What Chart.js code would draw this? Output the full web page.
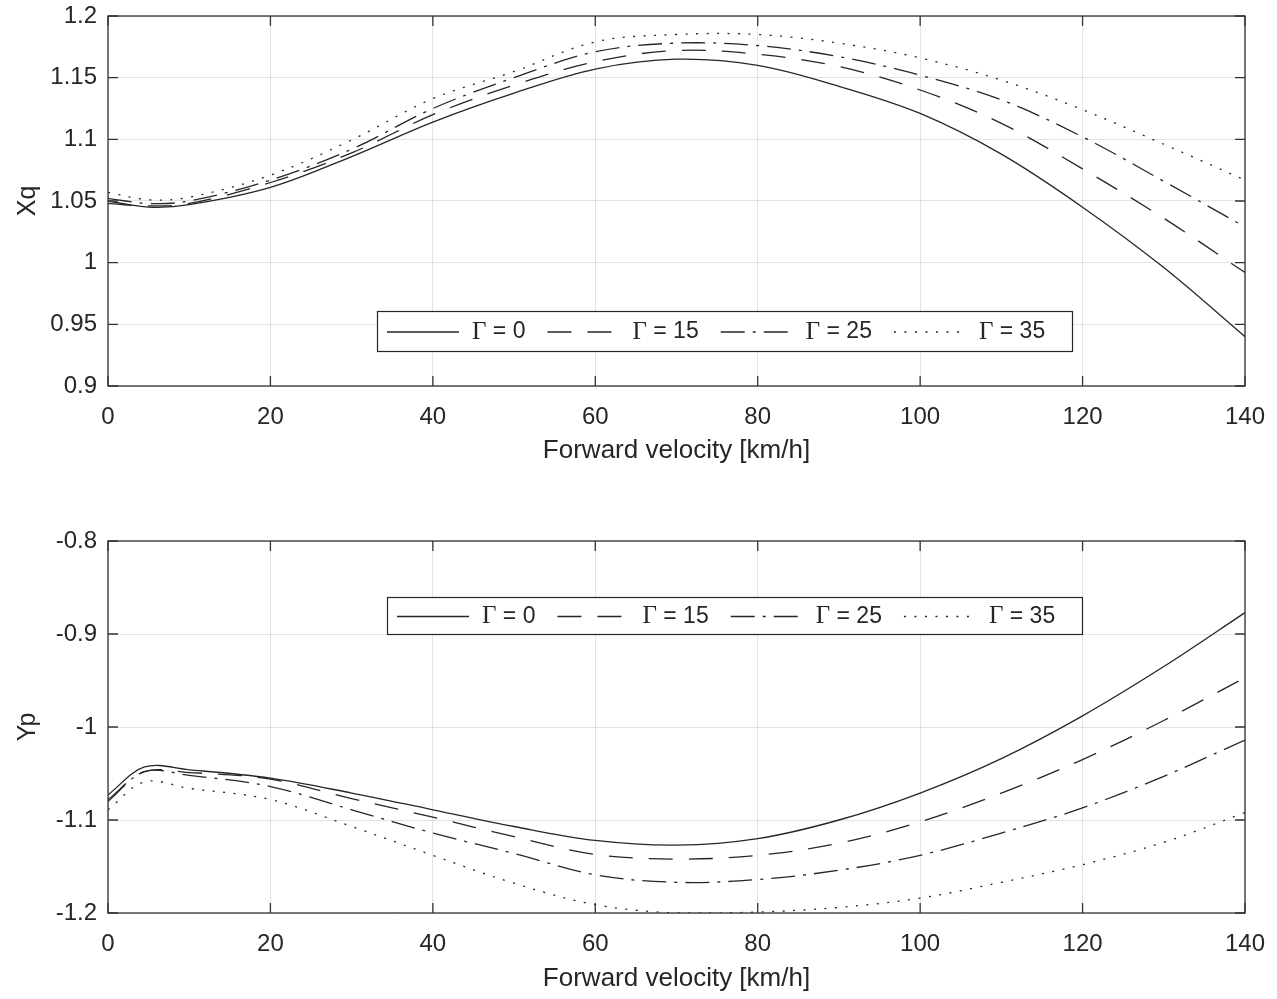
<!DOCTYPE html>
<html>
<head>
<meta charset="utf-8">
<script src="https://cdn.jsdelivr.net/npm/chart.js@4.4.1/dist/chart.umd.min.js"></script>
<style>
  body { margin: 0; background: #fff; width: 1277px; height: 999px; overflow: hidden; }
  .panel { position: absolute; left: 0; width: 1277px; }
</style>
</head>
<body>
<div class="panel" style="top:0;height:480px"><canvas id="xqChart"></canvas></div>
<div class="panel" style="top:525px;height:474px"><canvas id="ypChart"></canvas></div>
<script>
// values
var gammaValues = ['0', '15', '25', '35'];

var speedXq = [0, 5, 10, 20, 30, 40, 50, 60, 70, 80, 90, 100, 110, 120, 130, 140];
var xqG0  = [1.050, 1.045, 1.047, 1.061, 1.086, 1.114, 1.1375, 1.157, 1.165, 1.160, 1.143, 1.121, 1.088, 1.045, 0.996, 0.940];
var xqG15 = [1.048, 1.046, 1.048, 1.065, 1.089, 1.120, 1.144, 1.163, 1.172, 1.169, 1.159, 1.140, 1.113, 1.076, 1.036, 0.992];
var xqG25 = [1.052, 1.048, 1.050, 1.067, 1.092, 1.125, 1.150, 1.171, 1.178, 1.176, 1.167, 1.152, 1.132, 1.102, 1.066, 1.029];
var xqG35 = [1.057, 1.051, 1.053, 1.071, 1.0995, 1.133, 1.155, 1.179, 1.185, 1.185, 1.178, 1.166, 1.148, 1.124, 1.096, 1.067];

var speedYp = [0, 4.5, 10, 20, 30, 40, 50, 60, 70, 80, 90, 100, 110, 120, 130, 140];
var ypG0  = [-1.073, -1.043, -1.046, -1.055, -1.071, -1.089, -1.107, -1.122, -1.127, -1.120, -1.100, -1.071, -1.034, -0.988, -0.935, -0.877];
var ypG15 = [-1.078, -1.048, -1.049, -1.056, -1.077, -1.097, -1.118, -1.137, -1.142, -1.138, -1.125, -1.102, -1.071, -1.035, -0.993, -0.947];
var ypG25 = [-1.080, -1.048, -1.052, -1.064, -1.089, -1.114, -1.136, -1.159, -1.167, -1.164, -1.154, -1.138, -1.114, -1.087, -1.053, -1.014];
var ypG35 = [-1.089, -1.059, -1.066, -1.078, -1.107, -1.138, -1.168, -1.191, -1.200, -1.199, -1.194, -1.184, -1.167, -1.148, -1.124, -1.092];

var ink = '#262626';
var dashes = [[], [24, 16], [24, 8, 3, 8], [2, 8.5]];

Chart.defaults.font.family = '"Liberation Sans", Arial, Helvetica, sans-serif';
Chart.defaults.color = ink;

function points(xs, ys) {
    return xs.map((x, i) => ({ x: x, y: ys[i] }));
}

function makeDatasets(xs, series) {
    return series.map((ys, i) => ({
        label: 'Γ = ' + gammaValues[i],
        data: points(xs, ys),
        borderColor: ink,
        borderWidth: 1.3,
        borderDash: dashes[i],
        pointRadius: 0,
        tension: 0.35,
        fill: false
    }));
}

// MATLAB style box with inward ticks on all four sides
const framePlugin = {
    id: 'frame',
    afterDatasetsDraw(chart) {
        const { ctx, chartArea: a, scales } = chart;
        ctx.save();
        ctx.strokeStyle = '#333';
        ctx.lineWidth = 1.3;
        ctx.setLineDash([]);
        ctx.strokeRect(a.left, a.top, a.right - a.left, a.bottom - a.top);
        ctx.beginPath();
        scales.x.ticks.forEach(t => {
            const p = scales.x.getPixelForValue(t.value);
            ctx.moveTo(p, a.top); ctx.lineTo(p, a.top + 10);
            ctx.moveTo(p, a.bottom); ctx.lineTo(p, a.bottom - 10);
        });
        scales.y.ticks.forEach(t => {
            const p = scales.y.getPixelForValue(t.value);
            ctx.moveTo(a.left, p); ctx.lineTo(a.left + 10, p);
            ctx.moveTo(a.right, p); ctx.lineTo(a.right - 10, p);
        });
        ctx.stroke();
        ctx.restore();
    }
};

// boxed legend sitting inside the plot area
const boxLegend = {
    id: 'boxLegend',
    afterDraw(chart, args, opts) {
        const ctx = chart.ctx;
        ctx.save();
        ctx.fillStyle = '#fff';
        ctx.fillRect(opts.left, opts.top, opts.width, opts.height);
        ctx.strokeStyle = ink;
        ctx.lineWidth = 1.2;
        ctx.strokeRect(opts.left + 0.5, opts.top + 0.5, opts.width, opts.height);
        const cy = opts.top + opts.height / 2 + 1;
        let x = opts.left + 10;
        chart.data.datasets.forEach(ds => {
            ctx.strokeStyle = ds.borderColor;
            ctx.lineWidth = ds.borderWidth;
            ctx.setLineDash(ds.borderDash);
            ctx.beginPath();
            ctx.moveTo(x, cy); ctx.lineTo(x + 72, cy);
            ctx.stroke();
            ctx.setLineDash([]);
            x += 72 + 13;
            ctx.fillStyle = ink;
            ctx.textBaseline = 'middle';
            ctx.font = '25px "Liberation Serif", serif';
            ctx.fillText('Γ', x, cy);
            x += ctx.measureText('Γ').width;
            const rest = ds.label.slice(1);
            ctx.font = '23px "Liberation Sans", Arial, sans-serif';
            ctx.fillText(rest, x, cy);
            x += ctx.measureText(rest).width + 22;
        });
        ctx.restore();
    }
};

function noOverflow(s) {
    s.paddingTop = 0;
    s.paddingBottom = 0;
    s.paddingLeft = 0;
    s.paddingRight = 0;
}

function makeConfig(datasets, yTitle, yMin, yMax, yStep, decimals, legendBox, xAxisHeight, titlePad) {
    return {
        type: 'line',
        data: { datasets: datasets },
        plugins: [framePlugin, boxLegend],
        options: {
            responsive: true,
            maintainAspectRatio: false,
            animation: false,
            layout: { padding: { top: 16, right: 32, left: 0, bottom: 0 } },
            plugins: {
                legend: { display: false },
                tooltip: { enabled: false },
                boxLegend: legendBox
            },
            scales: {
                x: {
                    type: 'linear',
                    min: 0,
                    max: 140,
                    ticks: { stepSize: 20, padding: 17, font: { size: 24 }, color: ink },
                    grid: { color: 'rgba(38,38,38,0.13)', drawTicks: false },
                    border: { display: false },
                    title: {
                        display: true,
                        text: 'Forward velocity [km/h]',
                        font: { size: 26 },
                        color: ink,
                        padding: { top: 4, bottom: titlePad }
                    },
                    afterFit: s => { s.height = xAxisHeight; noOverflow(s); }
                },
                y: {
                    min: yMin,
                    max: yMax,
                    ticks: {
                        stepSize: yStep,
                        padding: 11,
                        font: { size: 24 },
                        color: ink,
                        callback: v => String(Number(v.toFixed(decimals)))
                    },
                    grid: { color: 'rgba(38,38,38,0.13)', drawTicks: false },
                    border: { display: false },
                    title: {
                        display: true,
                        text: yTitle,
                        font: { size: 25 },
                        color: ink,
                        padding: { top: 13, bottom: 4 }
                    },
                    afterFit: s => { s.width = 108; noOverflow(s); }
                }
            }
        }
    };
}

new Chart(document.getElementById('xqChart'),
    makeConfig(makeDatasets(speedXq, [xqG0, xqG15, xqG25, xqG35]), 'Xq', 0.9, 1.2, 0.05, 2,
        { left: 377, top: 311, width: 695, height: 40 }, 94, 14));

new Chart(document.getElementById('ypChart'),
    makeConfig(makeDatasets(speedYp, [ypG0, ypG15, ypG25, ypG35]), 'Yp', -1.2, -0.8, 0.1, 1,
        { left: 387, top: 72, width: 695, height: 37 }, 86, 5));
</script>
</body>
</html>
